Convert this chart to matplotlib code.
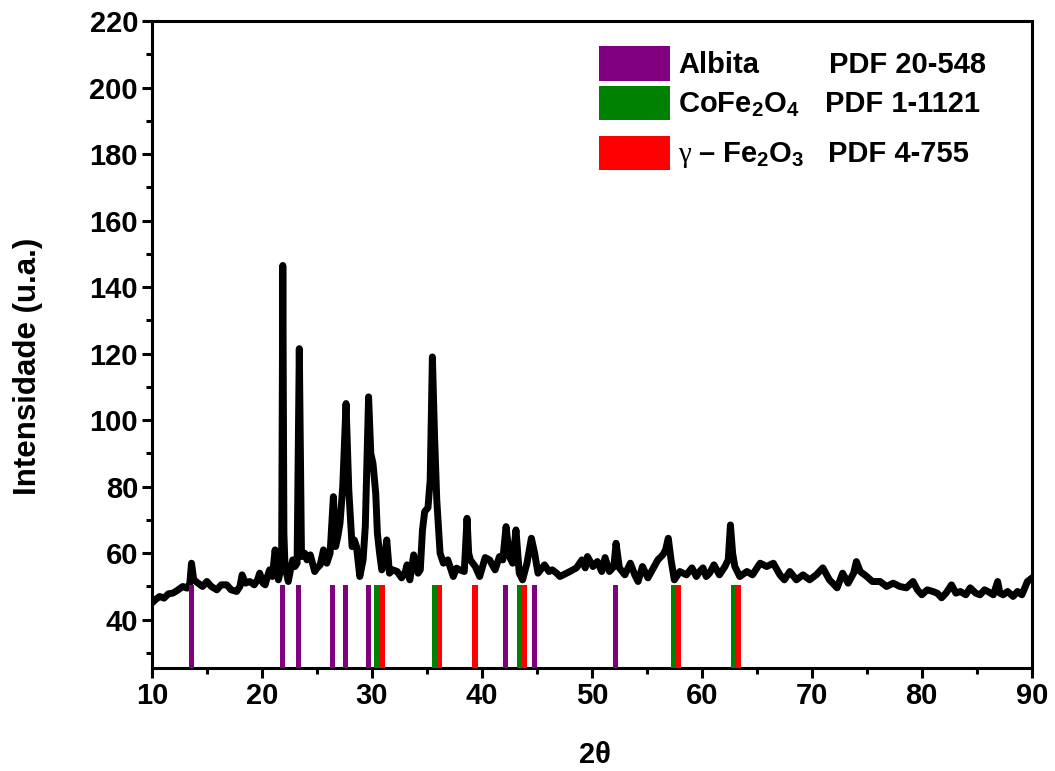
import numpy as np
import matplotlib
matplotlib.use('Agg')
import matplotlib.pyplot as plt
from matplotlib.patches import Rectangle
from matplotlib.ticker import MultipleLocator

plt.rcParams['font.family'] = ['Liberation Sans', 'DejaVu Sans']
plt.rcParams['font.weight'] = 'bold'
plt.rcParams['mathtext.fontset'] = 'custom'
plt.rcParams['mathtext.bf'] = 'Liberation Sans:bold'
plt.rcParams['mathtext.rm'] = 'Liberation Sans:bold'

# XRD pattern
two_theta = [10.0, 10.3, 10.7, 11.1, 11.5, 11.9, 12.3, 12.8, 13.2, 13.45, 13.6, 13.8, 14.2, 14.6,
             15.0, 15.4, 15.9, 16.3, 16.8, 17.2, 17.7, 18.0, 18.2, 18.5, 18.9, 19.3, 19.6, 19.8,
             20.1, 20.3, 20.5, 20.7, 20.95, 21.2, 21.5, 21.7, 21.8, 21.9, 22.0, 22.1, 22.4, 22.6,
             22.8, 23.0, 23.2, 23.4, 23.6, 23.9, 24.1, 24.4, 24.8, 25.0, 25.3, 25.6, 25.9, 26.2,
             26.5, 26.7, 26.9, 27.1, 27.35, 27.65, 27.9, 28.2, 28.4, 28.6, 28.9, 29.2, 29.4, 29.7,
             29.9, 30.1, 30.35, 30.5, 30.7, 30.9, 31.15, 31.35, 31.6, 31.9, 32.3, 32.7, 33.0, 33.2,
             33.45, 33.8, 34.2, 34.4, 34.6, 34.8, 35.1, 35.3, 35.5, 35.7, 35.9, 36.2, 36.5, 36.9,
             37.1, 37.4, 37.7, 38.0, 38.4, 38.65, 38.8, 38.95, 39.4, 39.8, 40.3, 40.7, 41.2, 41.6,
             41.9, 42.2, 42.5, 42.8, 43.1, 43.4, 43.7, 44.1, 44.5, 44.8, 45.1, 45.7, 46.1, 46.4,
             46.8, 47.1, 47.7, 48.0, 48.6, 49.1, 49.4, 49.6, 50.1, 50.5, 50.9, 51.2, 51.6, 52.0,
             52.2, 52.5, 53.0, 53.5, 53.9, 54.2, 54.6, 55.1, 55.5, 56.0, 56.45, 56.7, 56.95, 57.2,
             57.5, 58.0, 58.6, 59.1, 59.5, 59.8, 60.1, 60.4, 60.7, 61.1, 61.6, 62.1, 62.4, 62.6,
             62.8, 63.0, 63.45, 64.1, 64.6, 65.3, 65.9, 66.5, 67.1, 67.5, 68.0, 68.6, 69.2, 69.8,
             70.4, 71.0, 71.6, 72.3, 72.8, 73.3, 73.8, 74.05, 74.4, 75.0, 75.5, 76.2, 76.8, 77.4,
             78.0, 78.6, 79.2, 79.6, 80.0, 80.5, 81.0, 81.4, 81.8, 82.2, 82.7, 83.1, 83.5, 84.0,
             84.4, 84.9, 85.3, 85.7, 86.0, 86.5, 86.9, 87.1, 87.4, 87.8, 88.3, 88.7, 89.1, 89.6, 90.0]
intensity = [45.0, 46.0, 47.0, 46.5, 47.8, 48.0, 48.8, 50.0, 49.5, 51.0, 57.0, 52.0, 51.0, 50.0,
             51.5, 50.0, 49.0, 50.5, 50.5, 49.0, 48.5, 50.0, 53.5, 51.0, 51.5, 50.5, 52.0, 54.0,
             51.0, 50.5, 53.0, 55.0, 53.0, 61.0, 52.0, 55.0, 62.0, 146.5, 66.0, 56.0, 51.5, 55.0,
             58.0, 56.0, 57.0, 121.5, 59.0, 60.0, 58.0, 59.5, 54.5, 55.5, 56.5, 61.0, 57.0, 60.0,
             77.0, 62.0, 65.0, 69.0, 80.0, 105.0, 79.0, 62.0, 64.0, 62.0, 53.0, 58.0, 68.0, 107.0,
             90.0, 87.0, 78.0, 66.0, 60.0, 55.0, 58.0, 64.0, 54.0, 55.0, 54.5, 52.6, 54.0, 56.5,
             52.0, 59.5, 54.0, 55.0, 67.0, 72.5, 73.7, 82.0, 119.0, 95.0, 76.0, 60.0, 57.0, 58.0,
             56.0, 53.0, 55.5, 55.0, 54.5, 70.5, 60.0, 58.0, 56.0, 53.0, 58.7, 58.0, 55.0, 59.0,
             58.0, 68.0, 59.0, 57.0, 67.0, 54.0, 52.0, 57.0, 64.5, 60.0, 54.0, 56.5, 54.5, 55.0,
             54.0, 53.0, 54.0, 54.5, 55.6, 58.0, 55.6, 59.0, 56.0, 57.5, 54.5, 58.7, 54.5, 56.0,
             63.0, 55.6, 53.5, 57.0, 53.5, 51.5, 56.0, 52.6, 55.0, 58.0, 59.5, 61.0, 64.5, 58.0,
             52.0, 54.5, 53.5, 55.6, 53.0, 54.5, 55.6, 53.0, 54.0, 56.5, 53.5, 56.0, 58.0, 68.5,
             60.0, 56.0, 53.0, 54.5, 53.5, 57.0, 56.0, 57.0, 53.5, 52.0, 54.5, 52.0, 53.5, 52.0,
             53.5, 55.6, 52.0, 49.6, 54.0, 51.0, 54.0, 57.5, 54.5, 53.0, 51.5, 51.5, 50.0, 51.0,
             50.0, 49.6, 51.5, 49.0, 47.5, 49.0, 48.5, 48.0, 46.6, 48.0, 50.5, 48.0, 48.5, 47.5,
             49.6, 48.0, 47.5, 49.0, 48.5, 47.5, 51.5, 48.0, 47.5, 48.5, 47.0, 48.5, 47.5, 51.5, 52.5]

# reference peak positions
albita_pos = [13.6, 21.86, 23.36, 26.45, 27.6, 29.68, 42.17, 44.77, 52.18]
cofe2o4_pos = [30.45, 35.73, 43.4, 57.39, 62.92]
fe2o3_pos = [30.92, 36.18, 39.38, 43.85, 57.83, 63.36]
bar_top = 50.3

y_min, y_max = 25.5, 220

fig = plt.figure(figsize=(10.55, 7.71), dpi=100)
ax = fig.add_axes([0.144, 0.1336, 0.834, 0.8392])

ax.plot(two_theta, intensity, color='black', lw=5, zorder=2, solid_joinstyle='round')

for pos, col in [(albita_pos, '#800080'), (cofe2o4_pos, '#008000'), (fe2o3_pos, '#ff0000')]:
    ax.bar(pos, bar_top - y_min, bottom=y_min, width=0.47, color=col, zorder=3)

ax.set_xlim(10, 90)
ax.set_ylim(y_min, y_max)
ax.xaxis.set_major_locator(MultipleLocator(10))
ax.xaxis.set_minor_locator(MultipleLocator(5))
ax.yaxis.set_major_locator(MultipleLocator(20))
ax.yaxis.set_minor_locator(MultipleLocator(10))
ax.set_yticks(np.arange(40, 221, 20))
ax.tick_params(which='major', direction='out', length=7, width=2.2, labelsize=21, pad=3)
ax.tick_params(which='minor', direction='out', length=4, width=2.2)
for sp in ax.spines.values():
    sp.set_linewidth(2.2)

ax.set_xlabel('2θ', fontsize=21, fontweight='bold', va='center')
ax.xaxis.set_label_coords(0.503, -0.135)
ax.set_ylabel('Intensidade (u.a.)', fontsize=22.5, fontweight='bold', va='center')
ax.yaxis.set_label_coords(-0.141, 0.466)

# legend drawn by hand
leg_rows = [('#800080', 0.907, 0.961, None, 'Albita', 'PDF 20-548', 0.9195, 0.770),
            ('#008000', 0.847, 0.899, None, r'CoFe$_\mathbf{2}$O$_\mathbf{4}$', 'PDF 1-1121', 0.859, 0.765),
            ('#ff0000', 0.769, 0.822, 'γ', r'– Fe$_\mathbf{2}$O$_\mathbf{3}$', 'PDF 4-755', 0.782, 0.768)]
for col, y0, y1, greek, name, pdf, yb, xp in leg_rows:
    ax.add_patch(Rectangle((0.508, y0), 0.081, y1 - y0, transform=ax.transAxes,
                           facecolor=col, edgecolor='none', zorder=4))
    if greek:
        ax.text(0.598, yb, greek, transform=ax.transAxes, fontsize=21, fontweight='normal',
                family='Liberation Serif', va='baseline', ha='left')
        ax.text(0.621, yb, name, transform=ax.transAxes, fontsize=21, fontweight='bold',
                va='baseline', ha='left')
    else:
        ax.text(0.598, yb, name, transform=ax.transAxes, fontsize=21, fontweight='bold',
                va='baseline', ha='left')
    ax.text(xp, yb, pdf, transform=ax.transAxes, fontsize=21, fontweight='bold',
            va='baseline', ha='left')

fig.savefig('out.png', dpi=100)
